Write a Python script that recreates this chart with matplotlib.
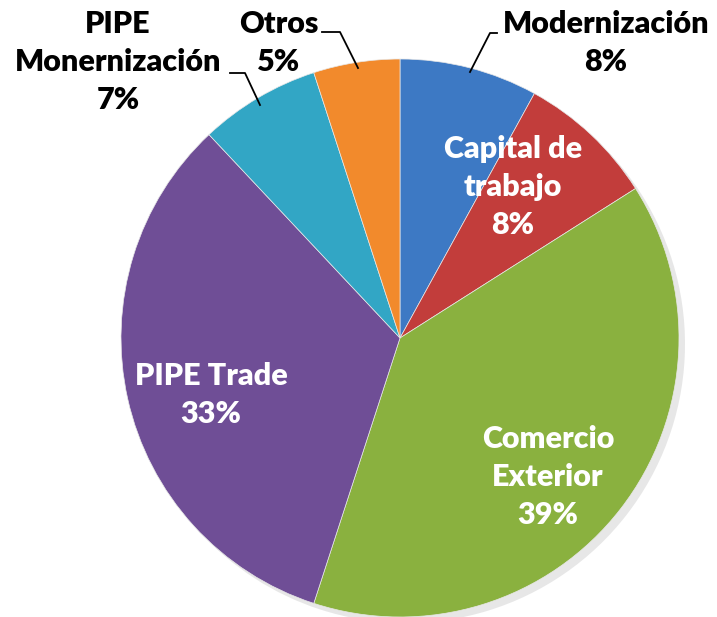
import matplotlib.pyplot as plt

# slices, clockwise from 12 o'clock
labels = ["Modernización", "Capital de\ntrabajo", "Comercio\nExterior",
          "PIPE Trade", "PIPE\nMonernización", "Otros"]
shares = [8, 8, 39, 33, 7, 5]
colors = ["#3D79C4", "#C23D3B", "#8AB13F", "#6F4E96", "#32A6C5", "#F28A2C"]

plt.rcParams['font.family'] = ['Lato', 'DejaVu Sans']

fig = plt.figure(figsize=(7.17, 6.17), dpi=100)
ax = fig.add_axes([0, 0, 1, 1])

cx, cy, r = 400, 279, 279

# soft shadow
shadow, _ = ax.pie(shares, startangle=90, counterclock=False, center=(cx + 6, cy - 6),
                   radius=r, colors=["#bbbbbb"] * len(shares), frame=True)
for w in shadow:
    w.set_alpha(0.35)
    w.set_linewidth(0)

wedges, _ = ax.pie(shares, startangle=90, counterclock=False, center=(cx, cy),
                   radius=r, colors=colors, frame=True,
                   wedgeprops=dict(edgecolor="#e8e8e8", linewidth=0.5))
ax.set_xlim(0, 717)
ax.set_ylim(0, 617)
ax.set_aspect('equal')
ax.axis('off')

fs = 22
txt = dict(fontsize=fs, fontweight='heavy', ha='center', va='center', linespacing=1.42)

# labels inside slices
ax.text(513, 617 - 187, f"{labels[1]}\n{shares[1]}%", color='white', **txt)
ax.text(548, 617 - 477, f"{labels[2]}\n{shares[2]}%", color='white', **txt)
ax.text(211, 617 - 395, f"{labels[3]}\n{shares[3]}%", color='white', **txt)

# labels outside with leader lines
ax.text(606, 617 - 43, f"{labels[0]}\n{shares[0]}%", color='black', **txt)
ax.plot([470, 490, 497], [617 - 72, 617 - 33, 617 - 33], color='black', lw=1.3)

ax.text(279, 617 - 43, f"{labels[5]}\n{shares[5]}%", color='black', **txt)
ax.plot([358, 340, 322], [617 - 68, 617 - 32, 617 - 32], color='black', lw=1.3)

ax.text(118, 617 - 62, f"{labels[4]}\n{shares[4]}%", color='black', **txt)
ax.plot([260, 245, 230], [617 - 105, 617 - 73, 617 - 73], color='black', lw=1.3)

fig.savefig("out.png", dpi=100)
